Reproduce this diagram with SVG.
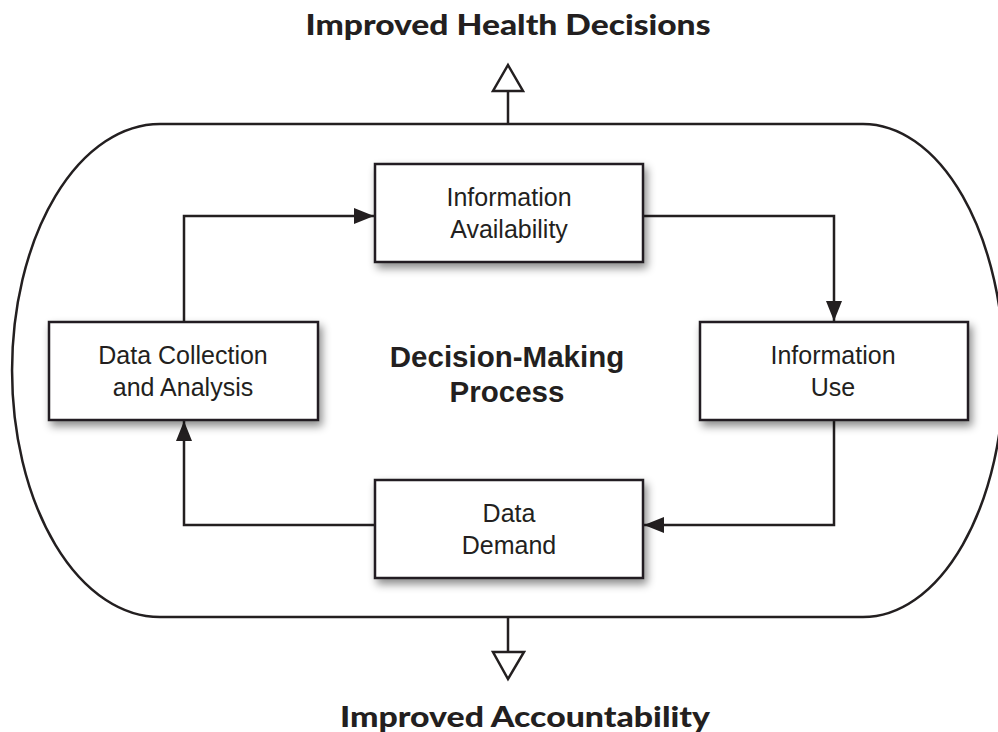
<svg xmlns="http://www.w3.org/2000/svg" width="998" height="732" viewBox="0 0 998 732">
<style>
.title{font-family:"Lato","Open Sans","Liberation Sans",sans-serif;font-weight:900;font-size:28px;fill:#231f20;text-anchor:middle}
.lbl{font-family:"Liberation Sans",Arial,sans-serif;font-size:25px;fill:#231f20;text-anchor:middle}
.ctr{font-family:"Liberation Sans",Arial,sans-serif;font-weight:bold;font-size:29.5px;fill:#231f20;text-anchor:middle}
.box{fill:#fff;stroke:#231f20;stroke-width:2.5;filter:url(#sh)}
.ln{fill:none;stroke:#231f20;stroke-width:2.5}
.hollow{fill:#fff;stroke:#231f20;stroke-width:2.5;stroke-linejoin:miter}
</style>
<defs>
<filter id="sh" x="-10%" y="-20%" width="125%" height="150%">
<feDropShadow dx="3" dy="5" stdDeviation="4" flood-color="#000" flood-opacity="0.45"/>
</filter>
<marker id="arr" viewBox="0 0 20 16" refX="20" refY="8" markerWidth="20" markerHeight="16" markerUnits="userSpaceOnUse" orient="auto">
<path d="M0,0 L20,8 L0,16 z" fill="#231f20"/>
</marker>
</defs>
<rect width="998" height="732" fill="#fff"/>

<g id="container">
<path class="ln" d="M160,124 L863,124 A141,246.5 0 0 1 863,617 L160,617 A148,246.5 0 0 1 160,124 Z"/>
</g>

<g id="connectors">
<path class="ln" d="M184,322 L184,216 L374,216" marker-end="url(#arr)"/>
<path class="ln" d="M643,216 L834,216 L834,321" marker-end="url(#arr)"/>
<path class="ln" d="M834,420 L834,525 L644,525" marker-end="url(#arr)"/>
<path class="ln" d="M375,525 L184,525 L184,421" marker-end="url(#arr)"/>
<path class="ln" d="M508,124 L508,91"/>
<path class="ln" d="M508,617 L508,652"/>
</g>

<g id="out-top">
<path class="hollow" d="M508,65 L523,91 L493,91 Z"/>
<text class="title" x="508" y="35" textLength="405" lengthAdjust="spacingAndGlyphs">Improved Health Decisions</text>
</g>

<g id="out-bottom">
<path class="hollow" d="M493,652 L524,652 L508,679 Z"/>
<text class="title" x="525" y="727" textLength="370" lengthAdjust="spacingAndGlyphs">Improved Accountability</text>
</g>

<g id="center">
<text class="ctr" x="507" y="367">Decision-Making</text>
<text class="ctr" x="507" y="402">Process</text>
</g>

<g id="info-availability">
<rect class="box" x="375" y="164" width="268" height="98"/>
<text class="lbl" x="509" y="206">Information</text>
<text class="lbl" x="509" y="238">Availability</text>
</g>

<g id="info-use">
<rect class="box" x="700" y="322" width="268" height="98"/>
<text class="lbl" x="833" y="364">Information</text>
<text class="lbl" x="833" y="396">Use</text>
</g>

<g id="data-collection">
<rect class="box" x="49" y="322" width="269" height="98"/>
<text class="lbl" x="183" y="364">Data Collection</text>
<text class="lbl" x="183" y="396">and Analysis</text>
</g>

<g id="data-demand">
<rect class="box" x="375" y="480" width="268" height="98"/>
<text class="lbl" x="509" y="522">Data</text>
<text class="lbl" x="509" y="554">Demand</text>
</g>
</svg>
